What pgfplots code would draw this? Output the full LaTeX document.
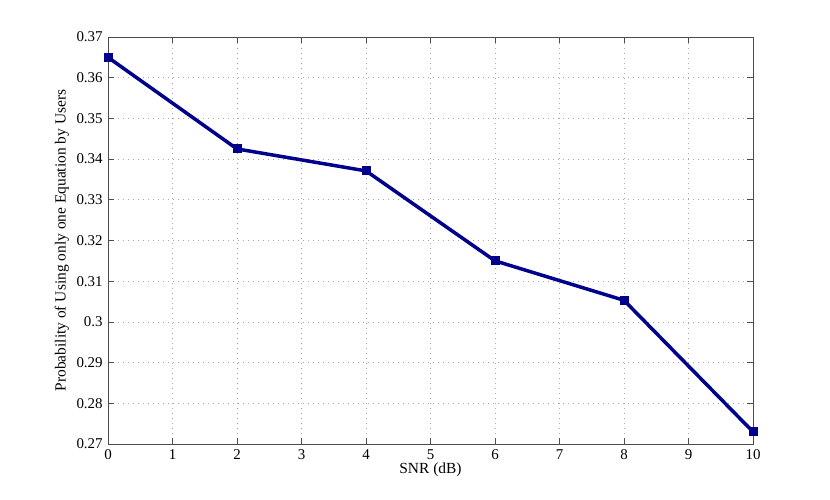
\documentclass[border=0pt]{standalone}
\usepackage{pgfplots}
\pgfplotsset{compat=1.18}
\usepackage{fontspec}
\setmainfont{Liberation Serif}
\definecolor{lineblue}{rgb}{0,0,0.55}
\begin{document}
\fontsize{15.5}{17}\selectfont
\begin{tikzpicture}
\useasboundingbox (0,0) rectangle (830bp,500bp);
\begin{axis}[
  at={(108bp,56bp)}, anchor=south west,
  scale only axis, width=645bp, height=407bp,
  xmin=0, xmax=10, ymin=0.27, ymax=0.37,
  xtick={0,1,...,10},
  ytick={0.27,0.28,...,0.37},
  yticklabel style={/pgf/number format/.cd,fixed,precision=2},
  /pgf/number format/assume math mode=true,
  tick align=inside,
  major tick length=6bp,
  tick style={black!70, line width=0.6pt},
  axis line style={black!70, line width=0.8pt},
  grid=major,
  major grid style={dash pattern=on 0.8bp off 4.2bp, gray!70, line width=0.6pt},
  xlabel={SNR (dB)},
  ylabel={Probability of Using only one Equation by Users},
  xlabel style={yshift=7bp},
  ylabel style={yshift=-3bp},
  tick label style={font=\fontsize{15}{17}\selectfont},
  label style={font=\fontsize{15.5}{17}\selectfont},
]
\addplot[lineblue, line width=3.5bp, mark=square*, mark size=4bp, mark options={solid, line width=1pt, fill=lineblue}] coordinates {
(0,0.365) (2,0.3425) (4,0.3371) (6,0.315) (8,0.3053) (10,0.273)
};
\end{axis}
\end{tikzpicture}
\end{document}
